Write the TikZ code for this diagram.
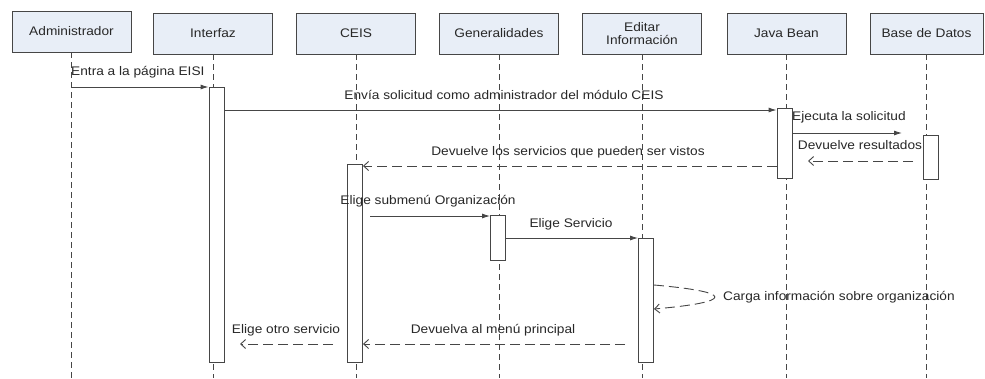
\documentclass[tikz,border=0pt]{standalone}
\usepackage{fontspec}
\setmainfont[FakeStretch=1.1]{Liberation Sans}
\usepackage{tikz}
\usetikzlibrary{arrows.meta, positioning, calc}
\definecolor{hdrfill}{RGB}{232,238,247}
\definecolor{linegray}{RGB}{70,70,70}
\definecolor{txtgray}{RGB}{40,40,40}
\tikzset{
    objbox/.style={rectangle, draw=linegray, line width=0.9bp, fill=hdrfill,
                   minimum width=119bp, minimum height=41bp, align=center,
                   text=txtgray, inner sep=2pt},
    lifeln/.style={draw=linegray, line width=0.9bp, dash pattern=on 6bp off 4bp},
    actbox/.style={rectangle, draw=linegray, line width=0.9bp, fill=white,
                   minimum width=15bp, inner sep=0pt},
    callmsg/.style={-{Latex[length=8bp,width=5bp]}, draw=linegray, line width=0.9bp},
    retmsg/.style={-{Straight Barb[length=5bp,width=9bp]}, draw=linegray,
                   line width=0.9bp, dash pattern=on 10bp off 5bp},
    msglbl/.style={text=txtgray, inner sep=0pt},
}
\begin{document}
\begin{tikzpicture}[x=1bp, y=-1bp, font=\fontsize{12.5}{13.5}\selectfont]
    \fill[white] (0,0) rectangle (985,378);
    \useasboundingbox (0,0) rectangle (985,378);
    % objects
    \node[objbox] (adm) at (71.5, 31.5) {Administrador};
    \node[objbox] (inf) at (213, 33.5) {Interfaz};
    \node[objbox] (ceis) at (356, 33.5) {CEIS};
    \node[objbox] (gen) at (499, 33.5) {Generalidades};
    \node[objbox] (edit) at (642, 33.5) {Editar\\Información};
    \node[objbox] (jb) at (786.5, 33.5) {Java Bean};
    \node[objbox, minimum width=113bp] (bd) at (926.5, 33.5) {Base de Datos};
    % lifelines
    \draw[lifeln] (adm.south) -- (adm.south |- 0,378);
    \draw[lifeln] (inf.south) -- (inf.south |- 0,378);
    \draw[lifeln] (ceis.south) -- (ceis.south |- 0,378);
    \draw[lifeln] (gen.south) -- (gen.south |- 0,378);
    \draw[lifeln] (edit.south) -- (edit.south |- 0,378);
    \draw[lifeln] (jb.south) -- (jb.south |- 0,378);
    \draw[lifeln] (bd.south) -- (bd.south |- 0,378);
    % activations
    \node[actbox, minimum height=275bp, anchor=north] (aInf) at (216.5, 87) {};
    \node[actbox, minimum height=70bp, anchor=north] (aJb) at (784.5, 108) {};
    \node[actbox, minimum height=44bp, anchor=north] (aBd) at (931, 135) {};
    \node[actbox, minimum height=198bp, anchor=north] (aCeis) at (355, 164) {};
    \node[actbox, minimum height=45bp, anchor=north] (aGen) at (498, 215) {};
    \node[actbox, minimum height=124bp, anchor=north] (aEdit) at (646, 238) {};
    % free ends
    \coordinate (ejEnd) at (902, 133);
    \coordinate (drStart) at (913, 161);
    \coordinate (drEnd) at (808, 161);
    \coordinate (esStart) at (370, 216);
    \coordinate (dmStart) at (625, 344);
    \coordinate (eoStart) at (333, 344);
    \coordinate (eoEnd) at (240, 344);
    % messages
    \draw[callmsg] (adm.south |- aInf.north) -- (aInf.north west);
    \node[msglbl, anchor=west] (l1) at (71, 72) {Entra a la página EISI};
    \draw[callmsg] (aInf.east |- 0,110) -- (aJb.west |- 0,110);
    \node[msglbl] (l2) at (504, 95) {Envía solicitud como administrador del módulo CEIS};
    \draw[callmsg] (aJb.east |- ejEnd) -- (ejEnd);
    \node[msglbl, anchor=west] (l3) at (792, 117) {Ejecuta la solicitud};
    \draw[retmsg] (drStart) -- (drEnd);
    \node[msglbl] (l4) at (860, 145) {Devuelve resultados};
    \draw[retmsg] (aJb.west |- 0,166) -- (aCeis.east |- 0,166);
    \node[msglbl] (l5) at (568, 152) {Devuelve los servicios que pueden ser vistos};
    \draw[callmsg] (esStart) -- (aGen.west |- esStart);
    \node[msglbl] (l6) at (428, 201) {Elige submenú Organización};
    \draw[callmsg] (aGen.east |- aEdit.north) -- (aEdit.north west);
    \node[msglbl] (l7) at (571, 224) {Elige Servicio};
    \draw[retmsg] (aEdit.east |- 0,285) .. controls (735,292) and (735,302) .. (aEdit.east |- 0,309);
    \node[msglbl, anchor=west] (l8) at (723, 297) {Carga información sobre organización};
    \draw[retmsg] (dmStart) -- (aCeis.east |- dmStart);
    \node[msglbl] (l9) at (493, 330) {Devuelva al menú principal};
    \draw[retmsg] (eoStart) -- (eoEnd);
    \node[msglbl] (l10) at (286, 330) {Elige otro servicio};
\end{tikzpicture}
\end{document}
